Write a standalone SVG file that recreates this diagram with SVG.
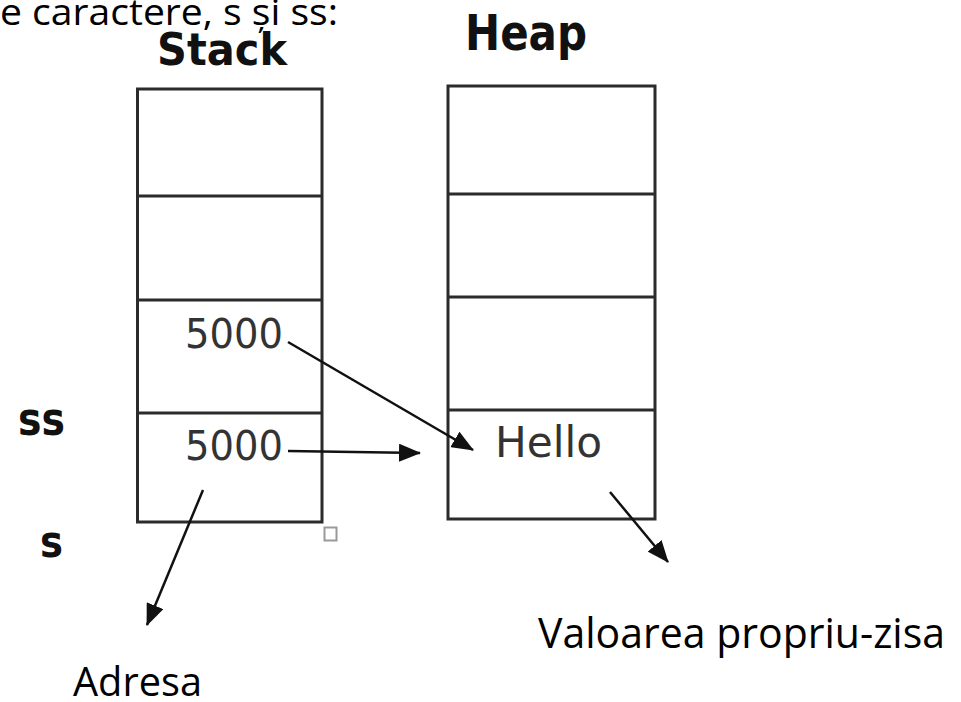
<svg xmlns="http://www.w3.org/2000/svg" width="961" height="702" viewBox="0 0 961 702">
<style>
.box{fill:#fff;stroke:#2b2b2b;stroke-width:3}
.div{stroke:#2b2b2b;stroke-width:3}
.hd{font-family:"DejaVu Sans","Liberation Sans",sans-serif;font-weight:bold;fill:#111}
.val{font-family:"DejaVu Sans","Liberation Sans",sans-serif;fill:#333}
.cap{font-family:"Open Sans","Liberation Sans",sans-serif;fill:#000}
.arr{stroke:#111;stroke-width:2.5;fill:none;marker-end:url(#ah)}
</style>
<defs>
<marker id="ah" viewBox="0 0 22 18" refX="21" refY="9" markerWidth="22" markerHeight="18" orient="auto" markerUnits="userSpaceOnUse">
<path d="M0,0 L22,9 L0,18 Z" fill="#111"/>
</marker>
</defs>
<rect width="961" height="702" fill="#fff"/>
<text class="cap" x="0" y="25" font-size="37" textLength="338" lengthAdjust="spacingAndGlyphs">e caractere, s și ss:</text>
<g id="stack">
<rect class="box" x="137.5" y="89" width="184.5" height="433"/>
<line class="div" x1="137.5" y1="196" x2="322" y2="196"/>
<line class="div" x1="137.5" y1="300" x2="322" y2="300"/>
<line class="div" x1="137.5" y1="413" x2="322" y2="413"/>
<text class="hd" x="157" y="65" font-size="44" textLength="130" lengthAdjust="spacingAndGlyphs">Stack</text>
<text class="val" x="185" y="348" font-size="41" textLength="98" lengthAdjust="spacingAndGlyphs">5000</text>
<text class="val" x="185" y="460" font-size="41" textLength="98" lengthAdjust="spacingAndGlyphs">5000</text>
</g>
<rect x="324.5" y="527.5" width="12" height="13" fill="none" stroke="#999" stroke-width="2"/>
<g id="heap">
<rect class="box" x="448" y="86" width="207" height="433"/>
<line class="div" x1="448" y1="194" x2="655" y2="194"/>
<line class="div" x1="448" y1="297" x2="655" y2="297"/>
<line class="div" x1="448" y1="410" x2="655" y2="410"/>
<text class="hd" x="465" y="50" font-size="50" textLength="122" lengthAdjust="spacingAndGlyphs">Heap</text>
<text class="val" x="495" y="457" font-size="43" textLength="107" lengthAdjust="spacingAndGlyphs">Hello</text>
</g>
<g id="labels">
<text class="hd" x="18" y="435" font-size="47" textLength="47" lengthAdjust="spacingAndGlyphs">ss</text>
<text class="hd" x="40" y="557" font-size="45" textLength="23" lengthAdjust="spacingAndGlyphs">s</text>
<text class="cap" x="73" y="696" font-size="40" textLength="129" lengthAdjust="spacingAndGlyphs">Adresa</text>
<text class="cap" x="538" y="648" font-size="42" textLength="407" lengthAdjust="spacingAndGlyphs">Valoarea propriu-zisa</text>
</g>
<g id="connectors">
<line class="arr" x1="288" y1="342" x2="473" y2="450"/>
<line class="arr" x1="288" y1="451" x2="420" y2="453"/>
<line class="arr" x1="203" y1="490" x2="147" y2="625"/>
<line class="arr" x1="610" y1="492" x2="668" y2="562"/>
</g>
</svg>
